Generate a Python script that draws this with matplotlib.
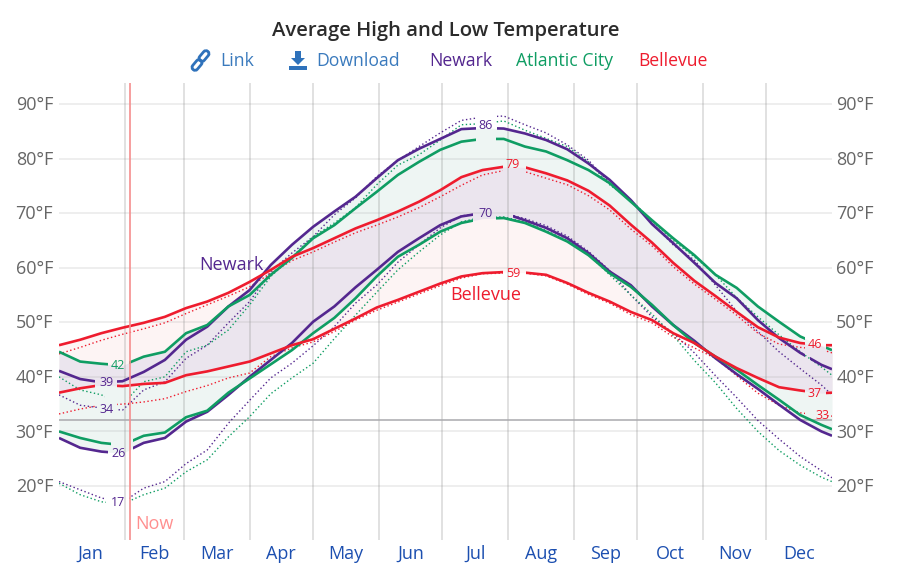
import numpy as np
import matplotlib
matplotlib.use("Agg")
import matplotlib.pyplot as plt
from matplotlib.patches import Rectangle, FancyBboxPatch, Polygon

plt.rcParams['font.family'] = ['Open Sans', 'DejaVu Sans']

# day of year for every reading
days = [0, 10, 20, 30, 40, 50, 60, 70, 80, 90, 100, 110, 120, 130, 140, 150, 160, 170, 180,
        190, 200, 210, 220, 230, 240, 250, 260, 270, 280, 290, 300, 310, 320, 330, 340, 350, 360, 365]

# solid lines, recent averages
newark_high = [41.1, 39.6, 39.0, 39.2, 40.9, 43.1, 46.8, 49.2, 52.9, 55.9, 60.5, 64.2, 67.5, 70.3, 73.0, 76.4, 79.7, 81.8, 83.6,
               85.4, 85.6, 85.5, 84.6, 83.4, 81.7, 79.1, 76.1, 72.4, 68.0, 64.5, 60.9, 57.2, 54.4, 50.4, 47.1, 44.4, 42.2, 41.4]
newark_low = [28.8, 27.0, 26.3, 26.0, 27.9, 28.8, 31.8, 33.6, 36.7, 40.0, 43.1, 46.2, 50.1, 52.9, 56.4, 59.6, 62.9, 65.4, 67.8,
              69.4, 70.0, 70.0, 68.7, 67.3, 65.4, 62.7, 59.3, 56.8, 52.9, 49.5, 46.6, 43.4, 40.5, 37.8, 34.9, 32.1, 30.0, 29.2]
atlantic_high = [44.6, 42.8, 42.4, 42.1, 43.7, 44.6, 48.0, 49.5, 52.9, 55.0, 58.7, 61.8, 65.4, 67.8, 70.9, 73.9, 77.0, 79.4, 81.6,
                 83.1, 83.6, 83.6, 82.2, 81.3, 79.7, 77.9, 75.5, 72.1, 68.7, 65.4, 62.3, 58.7, 56.3, 52.9, 50.1, 47.4, 45.7, 44.9]
atlantic_low = [30.0, 28.8, 27.9, 27.5, 29.2, 29.8, 32.6, 33.8, 37.1, 39.7, 42.3, 44.9, 48.0, 50.8, 54.4, 58.4, 62.0, 64.2, 66.6,
                68.2, 69.0, 69.1, 68.2, 66.6, 64.8, 62.3, 59.0, 56.5, 53.2, 49.5, 46.2, 43.7, 41.3, 38.5, 35.8, 33.0, 31.2, 30.4]
bellevue_high = [45.8, 46.8, 48.0, 49.0, 49.9, 51.0, 52.6, 53.8, 55.4, 57.4, 59.6, 62.0, 63.6, 65.4, 67.2, 68.7, 70.3, 72.1, 74.2,
                 76.6, 77.9, 78.5, 78.4, 77.3, 76.0, 74.1, 71.4, 67.9, 64.6, 60.9, 57.6, 54.8, 51.9, 49.1, 47.2, 46.2, 45.8, 45.8]
bellevue_low = [37.1, 37.9, 38.5, 38.3, 38.7, 38.9, 40.3, 41.0, 41.9, 42.8, 44.3, 45.8, 46.9, 48.8, 50.7, 52.7, 54.1, 55.6, 57.1,
                58.4, 59.0, 59.2, 59.1, 58.7, 57.2, 55.4, 53.8, 51.9, 50.4, 48.0, 46.2, 43.7, 41.6, 39.8, 38.1, 37.5, 37.0, 37.1]

# dotted lines, older averages
newark_high_old = [36.7, 34.8, 34.3, 33.9, 37.6, 39.1, 43.4, 45.8, 49.9, 53.8, 59.3, 62.7, 65.7, 69.7, 72.8, 76.7, 79.7, 82.2, 84.7,
                   87.0, 87.6, 87.8, 86.2, 84.7, 82.5, 79.7, 75.5, 72.4, 68.2, 64.2, 61.4, 56.8, 52.0, 48.3, 44.6, 41.5, 38.5, 36.7]
newark_low_old = [20.8, 19.3, 17.8, 17.0, 19.6, 20.8, 24.1, 26.6, 31.5, 35.7, 39.8, 42.5, 45.7, 49.2, 53.5, 56.8, 61.0, 64.2, 67.3,
                  69.5, 70.0, 70.0, 69.0, 67.7, 65.8, 63.0, 59.5, 55.0, 51.0, 48.0, 44.4, 40.2, 36.2, 32.0, 28.6, 25.4, 22.8, 21.5]
atlantic_high_old = [40.0, 37.6, 36.7, 35.0, 39.1, 40.0, 44.6, 45.8, 48.6, 53.2, 58.4, 62.0, 65.7, 68.2, 71.0, 75.2, 78.8, 80.7, 83.4,
                     86.2, 86.4, 86.9, 85.2, 83.7, 82.2, 79.4, 75.2, 72.4, 68.6, 65.0, 62.0, 58.7, 54.5, 51.0, 47.7, 44.6, 41.8, 40.3]
atlantic_low_old = [20.5, 18.4, 17.1, 16.7, 18.4, 19.6, 22.6, 24.8, 29.0, 32.7, 36.9, 39.8, 42.5, 47.0, 51.3, 55.5, 59.6, 62.9, 66.0,
                    68.4, 69.3, 69.3, 68.4, 66.8, 65.0, 62.4, 58.7, 55.0, 51.5, 47.6, 43.0, 38.9, 34.2, 30.0, 26.5, 23.8, 21.6, 20.8]
bellevue_high_old = [44.2, 45.4, 46.7, 47.8, 48.8, 49.9, 51.6, 53.2, 54.8, 56.5, 59.0, 61.3, 62.9, 64.7, 66.4, 67.8, 69.3, 71.0, 73.0,
                     75.1, 77.0, 77.8, 77.6, 76.4, 75.2, 73.2, 70.6, 67.1, 64.0, 60.2, 57.0, 54.2, 51.3, 48.0, 46.0, 45.4, 45.0, 44.4]
bellevue_low_old = [33.2, 34.1, 34.8, 35.0, 35.4, 36.0, 37.3, 38.4, 39.8, 40.7, 43.7, 45.3, 46.4, 48.3, 50.4, 52.2, 53.7, 55.2, 56.7,
                    58.1, 58.9, 59.0, 59.0, 58.5, 57.0, 55.1, 53.5, 51.4, 49.9, 47.3, 45.3, 43.4, 40.2, 37.0, 34.8, 33.4, 33.0, 32.8]

months = ["Jan", "Feb", "Mar", "Apr", "May", "Jun", "Jul", "Aug", "Sep", "Oct", "Nov", "Dec"]
month_ends = [31, 59, 90, 120, 151, 181, 212, 243, 273, 304, 334]
month_mids = [15, 45, 74.5, 105, 135.5, 166, 196.5, 227.5, 258, 288.5, 319, 349.5]
temp_ticks = [20, 30, 40, 50, 60, 70, 80, 90]

PURPLE = "#54278f"
GREEN = "#0f9d63"
RED = "#ee1c2e"

# value labels: text, day, colour
value_labels = [(42, 28, GREEN), (39, 22.3, PURPLE), (34, 22.3, PURPLE), (26, 28, PURPLE), (17, 28, PURPLE),
                (86, 201.6, PURPLE), (79, 214.4, RED), (70, 201.6, PURPLE), (59, 214.4, RED),
                (46, 357, RED), (37, 357, RED), (33, 360.5, RED)]

fig = plt.figure(figsize=(9, 5.77), dpi=100)
ax = fig.add_axes([59 / 900, 1 - 540 / 577, 773 / 900, 457 / 577])
ax.set_xlim(0, 365)
ax.set_ylim(10.1, 93.85)
for side in ax.spines.values():
    side.set_visible(False)


def draw_line(values, color, gaps, lw=1.9, ls="-"):
    # one copy of the line per visible span, clipped so the value labels sit in a gap
    edges = [0] + [g for gap in gaps for g in gap] + [365]
    for start, end in zip(edges[::2], edges[1::2]):
        line, = ax.plot(days, values, color=color, lw=lw, ls=ls, zorder=4, solid_capstyle="butt")
        line.set_clip_path(Rectangle((start, 0), end - start, 120, transform=ax.transData))


# shaded bands, opaque tints, the overlap gets its own grey purple
east_low = np.minimum(atlantic_low, newark_low)
east_high = np.maximum(atlantic_high, newark_high)
ax.fill_between(days, east_low, east_high, color="#eef5f3", lw=0, zorder=1)
ax.fill_between(days, bellevue_low, bellevue_high, color="#fdf4f4", lw=0, zorder=1)
ax.fill_between(days, np.maximum(east_low, bellevue_low), np.minimum(east_high, bellevue_high),
                where=np.maximum(east_low, bellevue_low) < np.minimum(east_high, bellevue_high),
                interpolate=True, color="#ebe5ee", lw=0, zorder=1)

# grid on top of the tints
for t in temp_ticks:
    ax.axhline(t, color="#a0a0a0", alpha=0.2, lw=1.2, zorder=2)
for d in month_ends:
    ax.axvline(d, color="#8a8a8a", alpha=0.3, lw=1.2, zorder=2)
ax.axhline(32, color="#a9a9ad", lw=1.1, zorder=2)

# dotted lines
dot = (0, (1, 1.8))
draw_line(newark_high_old, PURPLE, [(18, 28), (197, 207)], 1.0, dot)
draw_line(newark_low_old, PURPLE, [(22, 33), (195.5, 214.4)], 1.0, dot)
draw_line(atlantic_high_old, GREEN, [(21.7, 33), (197, 206.3)], 1.0, dot)
draw_line(atlantic_low_old, GREEN, [(22, 33.5), (195.5, 206.3)], 1.0, dot)
draw_line(bellevue_high_old, RED, [(209.6, 220.5), (352.2, 362)], 1.0, dot)
draw_line(bellevue_low_old, RED, [(17, 27.4), (209.6, 220.5), (352.2, 362)], 1.0, dot)

# solid lines
draw_line(newark_high, PURPLE, [(17, 27.4), (197, 207), (352.2, 354.6)])
draw_line(newark_low, PURPLE, [(23, 35), (195.5, 214.4)])
draw_line(atlantic_high, GREEN, [(23, 33), (197, 206.3), (352.2, 362)])
draw_line(atlantic_low, GREEN, [(24.5, 35), (195.5, 206.3)])
draw_line(bellevue_high, RED, [(209.6, 220.5), (352.2, 362)])
draw_line(bellevue_low, RED, [(17, 27.4), (209.6, 220.5), (352.2, 362)])

# value labels in the gaps
for val, day, col in value_labels:
    ax.text(day, val, str(val), color=col, fontsize=9, ha="center", va="center", zorder=5)

# now marker
ax.axvline(33.3, color="#f58d8d", lw=1.2, zorder=6)
ax.text(36, 13.0, "Now", color="#ff8f8f", fontsize=13, ha="left", va="center")

# line names on the chart
ax.text(66, 60.5, "Newark", color=PURPLE, fontsize=13, ha="left", va="center")
ax.text(184.6, 55.0, "Bellevue", color=RED, fontsize=13, ha="left", va="center")

# axis labels, both sides
for t in temp_ticks:
    ax.text(-2.8, t - 0.2, f"{t}°F", color="#666666", fontsize=13, ha="right", va="center")
    ax.text(367, t - 0.2, f"{t}°F", color="#666666", fontsize=13, ha="left", va="center")
for name, d in zip(months, month_mids):
    ax.text(d, 7.55, name, color="#1c4fb0", fontsize=13, ha="center", va="center", clip_on=False)
ax.set_xticks([])
ax.set_yticks([])


def fig_text(x, y, s, color, size=12.7, weight="normal", ha="left"):
    fig.text(x / 900, 1 - y / 577, s, color=color, fontsize=size, fontweight=weight, ha=ha, va="center")


fig_text(446, 31, "Average High and Low Temperature", "#2b2b2b", 14.6, "semibold", "center")
BLUE = "#3a7abd"
fig_text(220, 61, "Link", BLUE)
fig_text(316, 61, "Download", BLUE)
fig_text(429, 61, "Newark", PURPLE)
fig_text(516, 61, "Atlantic City", GREEN)
fig_text(638, 61, "Bellevue", RED)

# small toolbar icons, in figure pixels
over = fig.add_axes([0, 0, 1, 1], facecolor="none")
over.set_xlim(0, 900)
over.set_ylim(577, 0)
over.axis("off")
ICON = "#2f72bb"
for cx, cy in [(204, 56), (197, 65)]:
    link = FancyBboxPatch((cx - 3, cy - 6), 6, 12, boxstyle="round,pad=0,rounding_size=3", fc="none", ec=ICON, lw=2)
    link.set_transform(matplotlib.transforms.Affine2D().rotate_deg_around(cx, cy, 40) + over.transData)
    over.add_patch(link)
over.add_patch(Polygon([(295, 51), (301, 51), (301, 58), (305, 58), (298, 65), (291, 58), (295, 58)], fc=ICON, ec="none"))
over.add_patch(Rectangle((289, 66), 18, 3.5, fc=ICON, ec="none"))

fig.savefig("out.png", dpi=100)
